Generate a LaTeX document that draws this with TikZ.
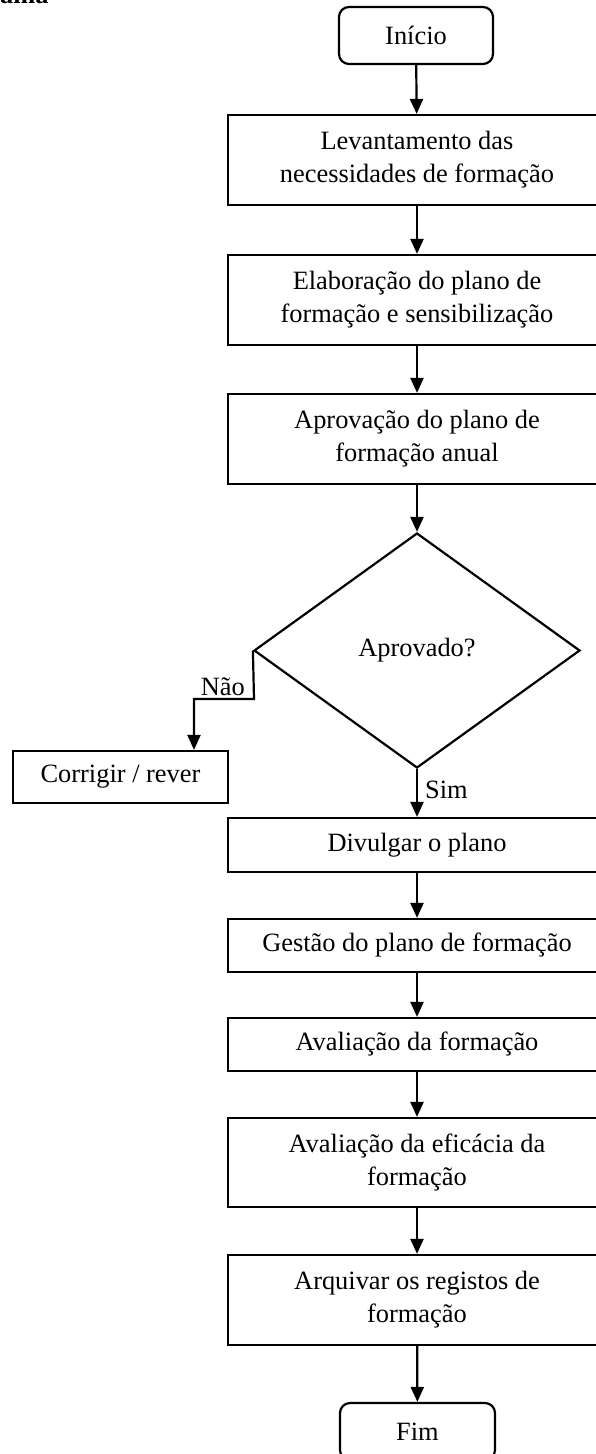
\documentclass[tikz,border=0pt]{standalone}
\usepackage{fontspec}
\setmainfont{Liberation Serif}
\usetikzlibrary{arrows.meta,shapes.geometric}
\tikzset{
  base/.style={draw, line width=2.2pt, inner sep=0pt, font=\fontsize{26.4}{33}\selectfont, align=center},
  proc/.style={base, rectangle, minimum width=378pt},
  term/.style={base, rectangle, rounded corners=10pt, minimum width=154pt, minimum height=57pt},
  dec/.style={base, diamond, shape aspect=1.387, minimum width=326pt, minimum height=235pt},
  arr/.style={line width=2.2pt, -{Triangle[length=15pt,width=13pt]}},
  lbl/.style={font=\fontsize{26.4}{33}\selectfont, inner sep=0pt}
}
\begin{document}
\begin{tikzpicture}[x=1pt,y=-1pt]
\useasboundingbox (0,0) rectangle (596,1454);
\clip (0,0) rectangle (596,1454);
\node[lbl, font=\fontsize{26.4}{33}\selectfont\bfseries, anchor=base west] (hdr) at (0,3) {ama};
\node[term] (start) at (416,35.5) {Início};
\node[proc, minimum height=90pt] (b1) at (417,160) {Levantamento das\\necessidades de formação};
\node[proc, minimum height=90pt] (b2) at (417,300) {Elaboração do plano de\\formação e sensibilização};
\node[proc, minimum height=90pt] (b3) at (417,439) {Aprovação do plano de\\formação anual};
\node[dec] (dia) at (417,650.5) {Aprovado?};
\node[base, rectangle, minimum width=215pt, minimum height=52pt] (corr) at (120.5,777) {Corrigir / rever};
\node[proc, minimum height=54pt] (b4) at (417,845) {Divulgar o plano};
\node[proc, minimum height=53pt] (b5) at (417,945.5) {Gestão do plano de formação};
\node[proc, minimum height=53pt] (b6) at (417,1044.5) {Avaliação da formação};
\node[proc, minimum height=89pt] (b7) at (417,1162.5) {Avaliação da eficácia da\\formação};
\node[proc, minimum height=90pt] (b8) at (417,1300) {Arquivar os registos de\\formação};
\node[term, minimum width=155pt] (fim) at (417.5,1431.5) {Fim};

\draw[arr] (start) -- (b1);
\draw[arr] (b1) -- (b2);
\draw[arr] (b2) -- (b3);
\draw[arr] (b3) -- (dia);
\coordinate (n1) at (254,699);
\coordinate (n2) at (194,699);
\draw[arr] (dia.west) -- (n1) -- (n2) -- (n2 |- corr.north);
\node[lbl, anchor=base east] (nao) at (245,695) {Não};
\draw[arr] (dia.south) -- (b4);
\node[lbl, anchor=base west] (sim) at (425,798) {Sim};
\draw[arr] (b4) -- (b5);
\draw[arr] (b5) -- (b6);
\draw[arr] (b6) -- (b7);
\draw[arr] (b7) -- (b8);
\draw[arr] (b8) -- (fim);
\end{tikzpicture}
\end{document}
